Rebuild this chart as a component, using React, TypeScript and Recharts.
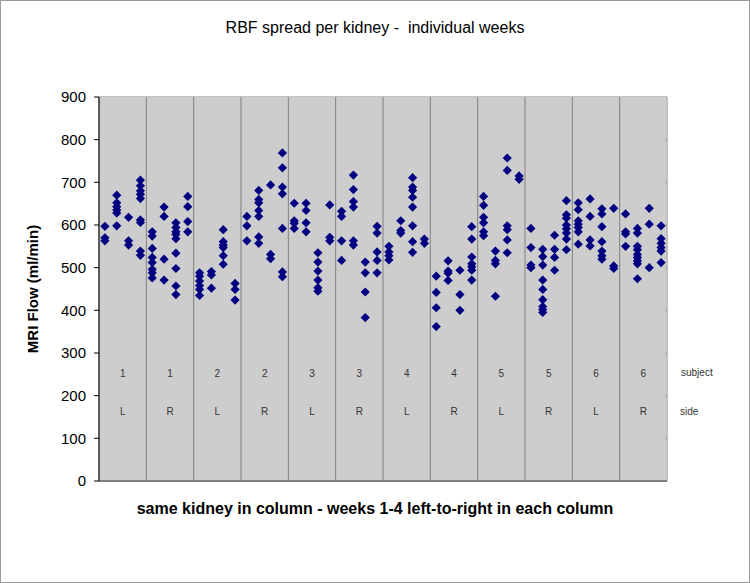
import { ScatterChart, Scatter, XAxis, YAxis, CartesianGrid, LabelList, ReferenceLine } from "recharts"

// one list per kidney column, four weeks each
const col1 = [[597, 570, 563], [670, 652, 643, 635, 628, 598], [618, 563, 553], [705, 692, 680, 672, 662, 612, 606, 539, 529]]
const col2 = [[584, 574, 545, 524, 512, 496, 488, 476], [642, 620, 520, 471], [605, 594, 584, 578, 568, 534, 498, 457, 437], [667, 643, 608, 584]]
const col3 = [[488, 480, 469, 458, 449, 435], [491, 483, 452], [589, 561, 553, 547, 528, 508], [463, 449, 424]]
const col4 = [[620, 598, 563], [681, 660, 652, 634, 620, 572, 557], [694, 531, 521], [769, 734, 689, 673, 592, 490, 479]]
const col5 = [[651, 610, 604, 592], [651, 634, 605, 584], [535, 513, 492, 471, 453, 445], [647, 571, 563]]
const col6 = [[632, 620, 563, 517], [717, 683, 655, 642, 563, 553], [513, 488, 443, 383], [597, 581, 537, 517, 488]]
const col7 = [[550, 537, 528, 518], [610, 587, 581], [711, 689, 681, 665, 642, 598, 561, 536], [567, 557]]
const col8 = [[480, 442, 406, 362], [516, 492, 487, 470], [494, 437, 400], [596, 567, 525, 509, 502, 494, 471]]
const col9 = [[667, 646, 618, 605, 584, 575], [539, 517, 509, 433], [757, 728, 598, 589, 565, 535], [715, 707]]
const col10 = [[592, 547, 506, 500], [543, 526, 506, 471, 449, 425, 409, 402, 395], [576, 543, 524, 494], [657, 624, 616, 600, 591, 581, 567, 542]]
const col11 = [[652, 636, 610, 602, 594, 584, 555], [661, 620, 565, 551], [638, 626, 596, 561, 539, 528, 520], [639, 504, 498]]
const col12 = [[626, 584, 579, 550], [592, 581, 550, 542, 531, 524, 516, 509, 474], [639, 602, 500], [598, 568, 557, 547, 539, 512]]

const columns = [col1, col2, col3, col4, col5, col6, col7, col8, col9, col10, col11, col12]
const subjects = ["1", "1", "2", "2", "3", "3", "4", "4", "5", "5", "6", "6"]
const sides = ["L", "R", "L", "R", "L", "R", "L", "R", "L", "R", "L", "R"]
const yTicks = [0, 100, 200, 300, 400, 500, 600, 700, 800, 900]
const xTicks = [0, 4, 8, 12, 16, 20, 24, 28, 32, 36, 40, 44, 48]

const points = columns.flatMap((weeks, c) =>
  weeks.flatMap((vals, w) => vals.map((v) => ({ x: c * 4 + w + 0.5, y: v })))
)
const subjectRow = subjects.map((s, c) => ({ x: c * 4 + 2, y: 253, t: s }))
const sideRow = sides.map((s, c) => ({ x: c * 4 + 2, y: 162, t: s }))

const font = "Arial, 'Liberation Sans', sans-serif"

const Diamond = (props: any) => {
  const { cx, cy } = props
  const r = 4.6
  return <polygon points={`${cx},${cy - r} ${cx + r},${cy} ${cx},${cy + r} ${cx - r},${cy}`} fill="#000080" />
}

const Blank = () => null

export default function App() {
  return (
    <div
      style={{
        position: "absolute",
        left: 0,
        top: 0,
        width: 750,
        height: 583,
        background: "#fff",
        fontFamily: font,
        boxSizing: "border-box",
        border: "1px solid #9a9a9a",
      }}
    >
      <div
        style={{ position: "absolute", top: 18, width: "100%", textAlign: "center", fontSize: 16, whiteSpace: "pre" }}
      >
        RBF spread per kidney -  individual weeks
      </div>
      <div style={{ position: "absolute", left: 0, top: 0 }}>
        <ScatterChart width={748} height={581} margin={{ top: 96, right: 82, bottom: 71, left: 0 }}>
          <rect x={98} y={96} width={567} height={384} fill="#cdcdcd" />
          <CartesianGrid stroke="#808080" vertical={false} />
          {xTicks.map((t) => (
            <ReferenceLine key={t} x={t} stroke="#808080" />
          ))}
          <XAxis
            type="number"
            dataKey="x"
            domain={[0, 48]}
            ticks={xTicks}
            tick={false}
            tickLine={false}
            axisLine={{ stroke: "#808080", strokeWidth: 2 }}
            height={30}
          />
          <YAxis
            type="number"
            dataKey="y"
            domain={[0, 900]}
            ticks={yTicks}
            width={98}
            tickSize={5}
            tickMargin={8}
            axisLine={{ stroke: "#000" }}
            tickLine={{ stroke: "#000" }}
            tick={{ fill: "#000", fontSize: 15, fontFamily: font }}
            label={{
              value: "MRI Flow (ml/min)",
              angle: -90,
              position: "insideLeft",
              offset: 32,
              style: { textAnchor: "middle", fontWeight: "bold", fontSize: 15, fill: "#000", fontFamily: font },
            }}
          />
          <Scatter data={points} shape={<Diamond />} isAnimationActive={false} />
          <Scatter data={subjectRow} shape={<Blank />} isAnimationActive={false}>
            <LabelList dataKey="t" position="center" style={{ fontSize: 10, fill: "#333", fontFamily: font }} />
          </Scatter>
          <Scatter data={sideRow} shape={<Blank />} isAnimationActive={false}>
            <LabelList dataKey="t" position="center" style={{ fontSize: 10, fill: "#333", fontFamily: font }} />
          </Scatter>
        </ScatterChart>
      </div>
      <div style={{ position: "absolute", left: 680, top: 366, fontSize: 10, color: "#333" }}>subject</div>
      <div style={{ position: "absolute", left: 679, top: 405, fontSize: 10, color: "#333" }}>side</div>
      <div
        style={{ position: "absolute", top: 499, width: "100%", textAlign: "center", fontSize: 16, fontWeight: "bold" }}
      >
        same kidney in column - weeks 1-4 left-to-right in each column
      </div>
    </div>
  )
}
